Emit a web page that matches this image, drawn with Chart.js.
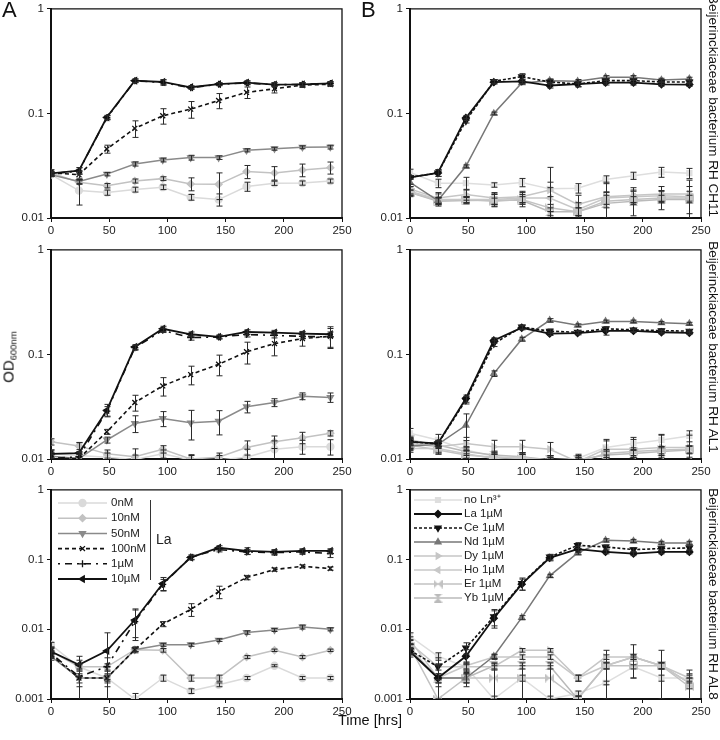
<!DOCTYPE html>
<html>
<head>
<meta charset="utf-8">
<script src="https://cdn.jsdelivr.net/npm/chart.js@4.4.0/dist/chart.umd.min.js"></script>
<style>
  body { margin: 0; background: #fff; width: 720px; height: 740px; position: relative; overflow: hidden;
         font-family: "Liberation Sans", Arial, sans-serif; color: #111; }
  canvas { position: absolute; }
  .txt { position: absolute; white-space: nowrap; }
  .rot { transform: translate(-50%, -50%) rotate(90deg); font-size: 13.5px; }
  .od { transform: translate(-50%, -50%) rotate(-90deg); font-size: 15px; }
  .od sub { font-size: 9.5px; vertical-align: -3px; }
</style>
</head>
<body>
<canvas id="a1" width="360" height="240" style="left:0;top:-1px"></canvas>
<canvas id="b1" width="360" height="240" style="left:359px;top:-1px"></canvas>
<canvas id="a2" width="360" height="240" style="left:0;top:240px"></canvas>
<canvas id="b2" width="360" height="240" style="left:359px;top:240px"></canvas>
<canvas id="a3" width="360" height="240" style="left:0;top:480px"></canvas>
<canvas id="b3" width="360" height="240" style="left:359px;top:480px"></canvas>

<div class="txt" style="left:2px;top:-3px;font-size:22px">A</div>
<div class="txt" style="left:361px;top:-3px;font-size:22px">B</div>
<div class="txt od" style="left:9px;top:357px">OD<sub>600nm</sub></div>
<div class="txt" style="left:338px;top:712px;font-size:14.5px">Time [hrs]</div>
<div class="txt rot" id="s1" style="left:713px;top:106px"></div>
<div class="txt rot" id="s2" style="left:713px;top:347px"></div>
<div class="txt rot" id="s3" style="left:713px;top:594px"></div>

<script>
// sampling times (hrs) and axis ticks
const hours = [0, 24, 48, 72, 96, 120, 144, 168, 192, 216, 240];
const xTicks = [0, 50, 100, 150, 200, 250];
const yTicksTop = [0.01, 0.1, 1];
const yTicksBottom = [0.001, 0.01, 0.1, 1];

const strains = ['Beijerinckiaceae bacterium RH CH11', 'Beijerinckiaceae bacterium RH AL1', 'Beijerinckiaceae bacterium RH AL8'];
const laLabels = ['0nM', '10nM', '50nM', '100nM', '1µM', '10µM'];
const lnLabels = ['no Ln³⁺', 'La 1µM', 'Ce 1µM', 'Nd 1µM', 'Dy 1µM', 'Ho 1µM', 'Er 1µM', 'Yb 1µM'];

// RH CH11 - La concentrations
const ch11_0nM   = [0.026, 0.0183, 0.0175, 0.0187, 0.0197, 0.0158, 0.015, 0.020, 0.0215, 0.0216, 0.0226];
const ch11_10nM  = [0.027, 0.022, 0.0204, 0.0226, 0.0238, 0.0212, 0.021, 0.0278, 0.027, 0.0288, 0.0303];
const ch11_50nM  = [0.026, 0.0223, 0.0263, 0.0329, 0.0359, 0.0378, 0.0378, 0.0444, 0.046, 0.0475, 0.0477];
const ch11_100nM = [0.027, 0.026, 0.0457, 0.072, 0.095, 0.110, 0.133, 0.159, 0.172, 0.187, 0.190];
const ch11_1uM   = [0.0265, 0.0282, 0.091, 0.205, 0.198, 0.176, 0.19, 0.196, 0.188, 0.19, 0.193];
const ch11_10uM  = [0.0267, 0.0284, 0.092, 0.206, 0.2, 0.178, 0.191, 0.197, 0.189, 0.19, 0.194];
const ch11_0nM_sd   = [0.001, 0.005, 0.001, 0.001, 0.001, 0.001, 0.002, 0.002, 0.001, 0.001, 0.001];
const ch11_10nM_sd  = [0.001, 0.001, 0.001, 0.001, 0.001, 0.003, 0.006, 0.004, 0.004, 0.004, 0.004];
const ch11_50nM_sd  = [0.001, 0.001, 0.001, 0.0015, 0.0015, 0.002, 0.0015, 0.0015, 0.0015, 0.0015, 0.002];
const ch11_100nM_sd = [0.002, 0.002, 0.004, 0.013, 0.016, 0.02, 0.022, 0.02, 0.015, 0.01, 0.008];
const ch11_1uM_sd   = [0.001, 0.002, 0.004, 0.008, 0.012, 0.006, 0.006, 0.008, 0.008, 0.007, 0.008];
const ch11_10uM_sd  = [0.001, 0.002, 0.004, 0.008, 0.01, 0.006, 0.006, 0.008, 0.008, 0.007, 0.008];

// RH CH11 - lanthanides 1µM
const ch11_noLn = [0.0273, 0.0215, 0.0215, 0.0207, 0.0219, 0.019, 0.0193, 0.0233, 0.0254, 0.0275, 0.0268];
const ch11_La   = [0.0245, 0.027, 0.0906, 0.199, 0.203, 0.185, 0.191, 0.197, 0.197, 0.19, 0.189];
const ch11_Ce   = [0.0245, 0.027, 0.085, 0.203, 0.225, 0.2, 0.191, 0.206, 0.206, 0.2, 0.2];
const ch11_Nd   = [0.0219, 0.0147, 0.0312, 0.1, 0.196, 0.206, 0.203, 0.222, 0.222, 0.209, 0.214];
const ch11_Dy   = [0.019, 0.0155, 0.0168, 0.0155, 0.016, 0.0185, 0.0135, 0.016, 0.0165, 0.017, 0.017];
const ch11_Ho   = [0.018, 0.015, 0.015, 0.015, 0.0155, 0.0155, 0.012, 0.0155, 0.016, 0.0163, 0.016];
const ch11_Er   = [0.0175, 0.0148, 0.015, 0.0145, 0.015, 0.0125, 0.0115, 0.0145, 0.015, 0.0155, 0.0155];
const ch11_Yb   = [0.0175, 0.0145, 0.0147, 0.0148, 0.0148, 0.0115, 0.0115, 0.0138, 0.0145, 0.015, 0.015];
const ch11_noLn_sd = [0.002, 0.002, 0.003, 0.001, 0.002, 0.003, 0.002, 0.002, 0.002, 0.003, 0.003];
const ch11_La_sd   = [0.001, 0.002, 0.005, 0.008, 0.01, 0.01, 0.012, 0.01, 0.01, 0.008, 0.008];
const ch11_Ce_sd   = [0.001, 0.002, 0.004, 0.008, 0.015, 0.01, 0.01, 0.01, 0.01, 0.01, 0.008];
const ch11_Nd_sd   = [0.002, 0.001, 0.001, 0.003, 0.005, 0.008, 0.008, 0.008, 0.008, 0.008, 0.008];
const ch11_Dy_sd   = [0.002, 0.002, 0.002, 0.002, 0.002, 0.012, 0.003, 0.006, 0.003, 0.003, 0.006];
const ch11_Ho_sd   = [0.002, 0.002, 0.001, 0.002, 0.002, 0.004, 0.002, 0.002, 0.002, 0.002, 0.002];
const ch11_Er_sd   = [0.001, 0.001, 0.001, 0.001, 0.001, 0.001, 0.001, 0.002, 0.001, 0.001, 0.001];
const ch11_Yb_sd   = [0.001, 0.001, 0.001, 0.002, 0.002, 0.001, 0.001, 0.004, 0.004, 0.003, 0.005];

// RH AL1 - La concentrations
const al1_0nM   = [0.0112, 0.0108, 0.0104, 0.0099, 0.0112, 0.0098, 0.0098, 0.0104, 0.0124, 0.0131, 0.0131];
const al1_10nM  = [0.0146, 0.0133, 0.0112, 0.0105, 0.0124, 0.01, 0.0104, 0.0129, 0.0146, 0.016, 0.0176];
const al1_50nM  = [0.0106, 0.0101, 0.0152, 0.0219, 0.0244, 0.0222, 0.023, 0.0316, 0.0347, 0.0399, 0.0388];
const al1_100nM = [0.0101, 0.0101, 0.0182, 0.0347, 0.05, 0.0642, 0.0805, 0.106, 0.127, 0.142, 0.149];
const al1_1uM   = [0.0101, 0.0105, 0.0287, 0.116, 0.17, 0.145, 0.147, 0.155, 0.152, 0.149, 0.147];
const al1_10uM  = [0.0112, 0.0114, 0.0293, 0.118, 0.176, 0.156, 0.147, 0.164, 0.162, 0.158, 0.156];
const al1_0nM_sd   = [0.001, 0.001, 0.001, 0.001, 0.001, 0.001, 0.001, 0.002, 0.0025, 0.002, 0.0022];
const al1_10nM_sd  = [0.001, 0.001, 0.001, 0.002, 0.001, 0.001, 0.001, 0.002, 0.002, 0.002, 0.001];
const al1_50nM_sd  = [0.001, 0.001, 0.001, 0.004, 0.004, 0.007, 0.006, 0.004, 0.003, 0.003, 0.004];
const al1_100nM_sd = [0.001, 0.001, 0.001, 0.006, 0.01, 0.013, 0.018, 0.025, 0.03, 0.022, 0.035];
const al1_1uM_sd   = [0.001, 0.001, 0.003, 0.006, 0.008, 0.008, 0.006, 0.008, 0.008, 0.008, 0.03];
const al1_10uM_sd  = [0.001, 0.003, 0.004, 0.006, 0.01, 0.008, 0.006, 0.008, 0.008, 0.008, 0.008];

// RH AL1 - lanthanides 1µM
const al1_noLn = [0.0176, 0.0152, 0.0122, 0.0106, 0.0101, 0.0098, 0.0101, 0.0129, 0.0141, 0.0152, 0.0166];
const al1_La   = [0.0146, 0.0141, 0.0379, 0.136, 0.18, 0.158, 0.16, 0.168, 0.168, 0.163, 0.161];
const al1_Ce   = [0.0146, 0.014, 0.0366, 0.127, 0.183, 0.167, 0.163, 0.176, 0.172, 0.169, 0.167];
const al1_Nd   = [0.0133, 0.0138, 0.021, 0.0656, 0.14, 0.212, 0.19, 0.207, 0.207, 0.201, 0.197];
const al1_Dy   = [0.0141, 0.0131, 0.0141, 0.0131, 0.0131, 0.0124, 0.0094, 0.0124, 0.0124, 0.0129, 0.0129];
const al1_Ho   = [0.0126, 0.0126, 0.0112, 0.0101, 0.0105, 0.0094, 0.0094, 0.0094, 0.0094, 0.0094, 0.0094];
const al1_Er   = [0.0136, 0.0122, 0.0109, 0.0104, 0.0101, 0.0092, 0.0092, 0.0113, 0.0118, 0.0122, 0.0124];
const al1_Yb   = [0.0152, 0.0136, 0.0118, 0.0109, 0.0105, 0.0098, 0.0098, 0.0109, 0.0113, 0.0118, 0.0122];
const al1_noLn_sd = [0.002, 0.002, 0.001, 0.001, 0.001, 0.001, 0.001, 0.002, 0.002, 0.002, 0.002];
const al1_La_sd   = [0.001, 0.001, 0.003, 0.008, 0.008, 0.006, 0.006, 0.015, 0.006, 0.006, 0.006];
const al1_Ce_sd   = [0.001, 0.001, 0.003, 0.008, 0.008, 0.008, 0.006, 0.008, 0.006, 0.006, 0.006];
const al1_Nd_sd   = [0.001, 0.001, 0.006, 0.004, 0.006, 0.008, 0.006, 0.006, 0.006, 0.006, 0.006];
const al1_Dy_sd   = [0.002, 0.002, 0.002, 0.002, 0.002, 0.002, 0.001, 0.003, 0.003, 0.004, 0.004];
const al1_Ho_sd   = [0.001, 0.001, 0.001, 0.001, 0.001, 0.001, 0.001, 0.001, 0.001, 0.001, 0.001];
const al1_Er_sd   = [0.001, 0.001, 0.001, 0.001, 0.001, 0.001, 0.001, 0.001, 0.001, 0.001, 0.001];
const al1_Yb_sd   = [0.001, 0.001, 0.001, 0.001, 0.001, 0.001, 0.001, 0.001, 0.001, 0.001, 0.001];

// RH AL8 - La concentrations
const al8_0nM   = [0.006, 0.0029, 0.002, 0.001, 0.002, 0.0013, 0.0016, 0.002, 0.003, 0.002, 0.002];
const al8_10nM  = [0.0048, 0.0029, 0.0029, 0.0051, 0.005, 0.002, 0.002, 0.004, 0.005, 0.004, 0.005];
const al8_50nM  = [0.0041, 0.002, 0.002, 0.0051, 0.006, 0.006, 0.007, 0.009, 0.0098, 0.0108, 0.01];
const al8_100nM = [0.0043, 0.002, 0.002, 0.0051, 0.0119, 0.0193, 0.0345, 0.0553, 0.072, 0.080, 0.0744];
const al8_1uM   = [0.0045, 0.0021, 0.0029, 0.0129, 0.044, 0.109, 0.139, 0.129, 0.126, 0.129, 0.122];
const al8_10uM  = [0.0048, 0.0031, 0.0049, 0.0136, 0.0454, 0.107, 0.148, 0.133, 0.129, 0.133, 0.133];
const al8_0nM_sd   = [0.0005, 0.0002, 0.0002, 0.0002, 0.0002, 0.0001, 0.0001, 0.0001, 0.0001, 0.0001, 0.0001];
const al8_10nM_sd  = [0.0008, 0.0003, 0.0003, 0.0003, 0.0003, 0.0002, 0.0002, 0.0002, 0.0002, 0.0002, 0.0002];
const al8_50nM_sd  = [0.0005, 0.0003, 0.0003, 0.0003, 0.0003, 0.0003, 0.0003, 0.0005, 0.0005, 0.0007, 0.0005];
const al8_100nM_sd = [0.0005, 0.0005, 0.0005, 0.0005, 0.001, 0.004, 0.007, 0.004, 0.004, 0.004, 0.004];
const al8_1uM_sd   = [0.0005, 0.0015, 0.001, 0.006, 0.008, 0.008, 0.01, 0.01, 0.01, 0.01, 0.015];
const al8_10uM_sd  = [0.0005, 0.001, 0.004, 0.006, 0.01, 0.008, 0.01, 0.015, 0.01, 0.01, 0.01];

// RH AL8 - lanthanides 1µM
const al8_noLn = [0.0079, 0.0041, 0.0029, 0.001, 0.002, 0.001, 0.0012, 0.0017, 0.0029, 0.002, 0.002];
const al8_La   = [0.0048, 0.002, 0.0041, 0.0144, 0.0444, 0.106, 0.141, 0.129, 0.122, 0.129, 0.129];
const al8_Ce   = [0.005, 0.0029, 0.0054, 0.0152, 0.0454, 0.109, 0.16, 0.152, 0.139, 0.144, 0.147];
const al8_Nd   = [0.0048, 0.002, 0.002, 0.0041, 0.0147, 0.0585, 0.125, 0.189, 0.185, 0.173, 0.173];
const al8_Dy   = [0.0063, 0.0029, 0.0029, 0.0029, 0.005, 0.005, 0.002, 0.004, 0.004, 0.003, 0.002];
const al8_Ho   = [0.007, 0.002, 0.003, 0.004, 0.004, 0.004, 0.002, 0.003, 0.004, 0.003, 0.0017];
const al8_Er   = [0.0056, 0.001, 0.002, 0.002, 0.002, 0.002, 0.001, 0.003, 0.003, 0.003, 0.0015];
const al8_Yb   = [0.0053, 0.002, 0.002, 0.003, 0.003, 0.003, 0.001, 0.003, 0.004, 0.003, 0.0017];
const al8_noLn_sd = [0.001, 0.0005, 0.0005, 0.0001, 0.0002, 0.0001, 0.0001, 0.0001, 0.0002, 0.0002, 0.0002];
const al8_La_sd   = [0.0005, 0.001, 0.001, 0.004, 0.008, 0.01, 0.015, 0.008, 0.008, 0.008, 0.008];
const al8_Ce_sd   = [0.001, 0.001, 0.001, 0.004, 0.009, 0.01, 0.015, 0.01, 0.01, 0.01, 0.01];
const al8_Nd_sd   = [0.0005, 0.0003, 0.0003, 0.0003, 0.001, 0.003, 0.008, 0.01, 0.01, 0.01, 0.01];
const al8_Dy_sd   = [0.0008, 0.0003, 0.0003, 0.0003, 0.0003, 0.0003, 0.0002, 0.0003, 0.0003, 0.0003, 0.0003];
const al8_Ho_sd   = [0.0008, 0.0003, 0.0003, 0.0003, 0.0003, 0.0003, 0.0002, 0.0003, 0.0003, 0.0003, 0.0003];
const al8_Er_sd   = [0.0005, 0.0005, 0.0005, 0.001, 0.001, 0.001, 0.0001, 0.002, 0.001, 0.002, 0.0005];
const al8_Yb_sd   = [0.0008, 0.001, 0.0003, 0.0003, 0.0003, 0.0003, 0.0001, 0.0003, 0.002, 0.0003, 0.0009];

// custom markers for Er (bowtie) and Yb (hourglass)
function makeMarker(kind, color) {
    const c = document.createElement('canvas');
    c.width = 9; c.height = 9;
    const g = c.getContext('2d');
    g.fillStyle = color;
    g.beginPath();
    if (kind === 'bowtie') {
        g.moveTo(0, 0); g.lineTo(4.5, 4.5); g.lineTo(0, 9); g.closePath();
        g.moveTo(9, 0); g.lineTo(4.5, 4.5); g.lineTo(9, 9); g.closePath();
    } else {
        g.moveTo(0, 0); g.lineTo(9, 0); g.lineTo(4.5, 4.5); g.closePath();
        g.moveTo(0, 9); g.lineTo(9, 9); g.lineTo(4.5, 4.5); g.closePath();
    }
    g.fill();
    return c;
}

const laStyles = [
    { color: '#dadada', point: 'circle', rot: 0, dash: [], width: 1.5, order: 6 },
    { color: '#c2c2c2', point: 'rectRot', rot: 0, dash: [], width: 1.5, order: 5 },
    { color: '#8a8a8a', point: 'triangle', rot: 180, dash: [], width: 1.5, order: 4 },
    { color: '#111111', point: 'crossRot', rot: 0, dash: [4, 3], width: 1.6, order: 3 },
    { color: '#111111', point: 'cross', rot: 0, dash: [2, 5, 7, 5], width: 1.6, order: 2 },
    { color: '#111111', point: 'triangle', rot: -90, dash: [], width: 1.8, order: 1 }
];
const lnStyles = [
    { color: '#dedede', point: 'rect', rot: 0, dash: [], width: 1.5, order: 8 },
    { color: '#111111', point: 'rectRot', rot: 0, dash: [], width: 1.8, order: 1 },
    { color: '#111111', point: 'triangle', rot: 180, dash: [3, 2], width: 1.6, order: 2 },
    { color: '#777777', point: 'triangle', rot: 0, dash: [], width: 1.5, order: 3 },
    { color: '#c6c6c6', point: 'triangle', rot: 90, dash: [], width: 1.5, order: 4 },
    { color: '#c8c8c8', point: 'triangle', rot: -90, dash: [], width: 1.5, order: 5 },
    { color: '#c2c2c2', point: makeMarker('bowtie', '#c2c2c2'), rot: 0, dash: [], width: 1.5, order: 6 },
    { color: '#bababa', point: makeMarker('hourglass', '#bababa'), rot: 0, dash: [], width: 1.5, order: 7 }
];

function buildDatasets(labels, styles, series, errors) {
    return labels.map((label, i) => {
        const s = styles[i];
        return {
            label: label,
            data: hours.map((h, k) => ({ x: h, y: series[i][k] })),
            errors: errors[i],
            borderColor: s.color,
            backgroundColor: s.color,
            borderWidth: s.width,
            borderDash: s.dash,
            pointStyle: s.point,
            rotation: s.rot,
            pointRadius: 3.5,
            pointBorderWidth: 1.3,
            order: s.order,
            tension: 0
        };
    });
}

// vertical error bars, drawn through the chart scales
const errorBars = {
    id: 'errorBars',
    afterDatasetsDraw(chart) {
        const { ctx, chartArea, scales } = chart;
        ctx.save();
        ctx.beginPath();
        ctx.rect(chartArea.left, chartArea.top - 3, chartArea.width + 3, chartArea.height + 3);
        ctx.clip();
        ctx.strokeStyle = '#2a2a2a';
        ctx.lineWidth = 1;
        chart.data.datasets.forEach(ds => {
            if (!ds.errors) return;
            ds.data.forEach((p, i) => {
                const e = ds.errors[i];
                if (!e) return;
                const px = Math.round(scales.x.getPixelForValue(p.x)) + 0.5;
                const hi = scales.y.getPixelForValue(p.y + e);
                const lo = p.y - e > 0 ? scales.y.getPixelForValue(p.y - e) : chartArea.bottom + 5;
                ctx.beginPath();
                ctx.moveTo(px, hi); ctx.lineTo(px, lo);
                ctx.moveTo(px - 3, hi); ctx.lineTo(px + 3, hi);
                ctx.moveTo(px - 3, lo); ctx.lineTo(px + 3, lo);
                ctx.stroke();
            });
        });
        ctx.restore();
    }
};

// thin frame on top and right of the plot area
const frame = {
    id: 'frame',
    afterDraw(chart) {
        const { ctx, chartArea } = chart;
        ctx.save();
        ctx.strokeStyle = '#111';
        ctx.lineWidth = 1.3;
        ctx.beginPath();
        ctx.moveTo(chartArea.left, chartArea.top);
        ctx.lineTo(chartArea.right, chartArea.top);
        ctx.lineTo(chartArea.right, chartArea.bottom);
        ctx.stroke();
        ctx.restore();
    }
};

// legend with line samples, markers and optional bracket label
const curveLegend = {
    id: 'curveLegend',
    afterDraw(chart, args, opts) {
        if (!opts || !opts.show) return;
        const ctx = chart.ctx;
        ctx.save();
        chart.data.datasets.forEach((ds, i) => {
            const y = opts.y + i * opts.step;
            ctx.strokeStyle = ds.borderColor;
            ctx.fillStyle = ds.backgroundColor;
            ctx.lineWidth = ds.borderWidth;
            ctx.setLineDash(ds.borderDash || []);
            ctx.beginPath();
            ctx.moveTo(opts.x0, y); ctx.lineTo(opts.x1, y);
            ctx.stroke();
            ctx.setLineDash([]);
            ctx.lineWidth = 1.3;
            Chart.helpers.drawPoint(ctx, { pointStyle: ds.pointStyle, rotation: ds.rotation, radius: 3.5, borderWidth: 1.3 },
                (opts.x0 + opts.x1) / 2, y);
            ctx.fillStyle = '#222';
            ctx.font = '11.5px "Liberation Sans", Arial, sans-serif';
            ctx.textBaseline = 'middle';
            ctx.textAlign = 'left';
            ctx.fillText(ds.label, opts.textX, y);
        });
        if (opts.bracket) {
            const b = opts.bracket;
            ctx.strokeStyle = '#333';
            ctx.lineWidth = 1;
            ctx.beginPath();
            ctx.moveTo(b.x + 0.5, b.y0); ctx.lineTo(b.x + 0.5, b.y1);
            ctx.stroke();
            ctx.fillStyle = '#222';
            ctx.font = '14px "Liberation Sans", Arial, sans-serif';
            ctx.textBaseline = 'middle';
            ctx.fillText(b.text, b.x + 6, (b.y0 + b.y1) / 2);
        }
        ctx.restore();
    }
};

function makePanel(id, datasets, yMin, yTicks, legend) {
    return new Chart(document.getElementById(id), {
        type: 'line',
        data: { datasets: datasets },
        plugins: [errorBars, frame, curveLegend],
        options: {
            responsive: false,
            animation: false,
            devicePixelRatio: 1,
            layout: { padding: { top: 9, right: 18, left: 0, bottom: 0 } },
            plugins: {
                legend: { display: false },
                tooltip: { enabled: false },
                curveLegend: legend || { show: false }
            },
            scales: {
                x: {
                    type: 'linear', min: 0, max: 250,
                    afterBuildTicks: axis => { axis.ticks = xTicks.map(v => ({ value: v })); },
                    afterFit: axis => { axis.height = 21; },
                    ticks: { color: '#222', font: { size: 11.5 }, padding: 2, maxRotation: 0 },
                    grid: { drawOnChartArea: false, tickLength: 4, color: '#111' },
                    border: { color: '#111', width: 2 }
                },
                y: {
                    type: 'logarithmic', min: yMin, max: 1,
                    afterBuildTicks: axis => { axis.ticks = yTicks.map(v => ({ value: v })); },
                    afterFit: axis => { axis.width = 51; },
                    ticks: { color: '#222', font: { size: 11.5 }, padding: 3, callback: v => String(v) },
                    grid: { drawOnChartArea: false, tickLength: 4, color: '#111' },
                    border: { color: '#111', width: 2 }
                }
            }
        }
    });
}

Chart.defaults.font.family = '"Liberation Sans", Arial, sans-serif';

makePanel('a1', buildDatasets(laLabels, laStyles,
    [ch11_0nM, ch11_10nM, ch11_50nM, ch11_100nM, ch11_1uM, ch11_10uM],
    [ch11_0nM_sd, ch11_10nM_sd, ch11_50nM_sd, ch11_100nM_sd, ch11_1uM_sd, ch11_10uM_sd]), 0.01, yTicksTop);

makePanel('b1', buildDatasets(lnLabels, lnStyles,
    [ch11_noLn, ch11_La, ch11_Ce, ch11_Nd, ch11_Dy, ch11_Ho, ch11_Er, ch11_Yb],
    [ch11_noLn_sd, ch11_La_sd, ch11_Ce_sd, ch11_Nd_sd, ch11_Dy_sd, ch11_Ho_sd, ch11_Er_sd, ch11_Yb_sd]), 0.01, yTicksTop);

makePanel('a2', buildDatasets(laLabels, laStyles,
    [al1_0nM, al1_10nM, al1_50nM, al1_100nM, al1_1uM, al1_10uM],
    [al1_0nM_sd, al1_10nM_sd, al1_50nM_sd, al1_100nM_sd, al1_1uM_sd, al1_10uM_sd]), 0.01, yTicksTop);

makePanel('b2', buildDatasets(lnLabels, lnStyles,
    [al1_noLn, al1_La, al1_Ce, al1_Nd, al1_Dy, al1_Ho, al1_Er, al1_Yb],
    [al1_noLn_sd, al1_La_sd, al1_Ce_sd, al1_Nd_sd, al1_Dy_sd, al1_Ho_sd, al1_Er_sd, al1_Yb_sd]), 0.01, yTicksTop);

makePanel('a3', buildDatasets(laLabels, laStyles,
    [al8_0nM, al8_10nM, al8_50nM, al8_100nM, al8_1uM, al8_10uM],
    [al8_0nM_sd, al8_10nM_sd, al8_50nM_sd, al8_100nM_sd, al8_1uM_sd, al8_10uM_sd]), 0.001, yTicksBottom,
    { show: true, x0: 58, x1: 107, textX: 111, y: 23, step: 15.2,
      bracket: { x: 150, y0: 20, y1: 100, text: 'La' } });

makePanel('b3', buildDatasets(lnLabels, lnStyles,
    [al8_noLn, al8_La, al8_Ce, al8_Nd, al8_Dy, al8_Ho, al8_Er, al8_Yb],
    [al8_noLn_sd, al8_La_sd, al8_Ce_sd, al8_Nd_sd, al8_Dy_sd, al8_Ho_sd, al8_Er_sd, al8_Yb_sd]), 0.001, yTicksBottom,
    { show: true, x0: 55, x1: 103, textX: 105, y: 20, step: 14 });

document.getElementById('s1').textContent = strains[0];
document.getElementById('s2').textContent = strains[1];
document.getElementById('s3').textContent = strains[2];
</script>
</body>
</html>
